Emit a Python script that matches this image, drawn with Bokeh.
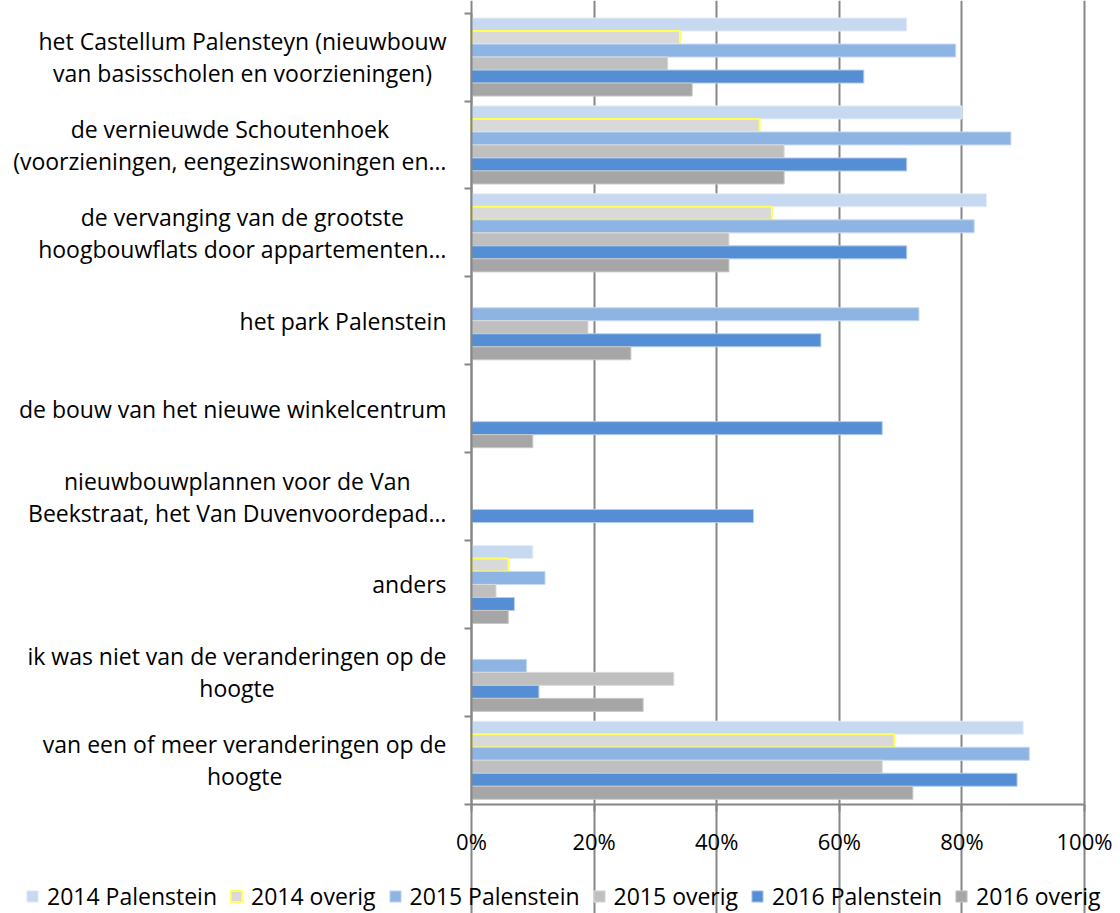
import math
from bokeh.plotting import figure
from bokeh.models import (Range1d, FixedTicker, NumeralTickFormatter, Label,
                          Legend, LegendItem, ColumnDataSource)
from bokeh.embed import file_html
from bokeh.resources import INLINE

nan = float("nan")

categories = [
    "het Castellum Palensteyn (nieuwbouw\nvan basisscholen en voorzieningen)",
    "de vernieuwde Schoutenhoek\n(voorzieningen, eengezinswoningen en\u2026",
    "de vervanging van de grootste\nhoogbouwflats door appartementen\u2026",
    "het park Palenstein",
    "de bouw van het nieuwe winkelcentrum",
    "nieuwbouwplannen voor de Van\nBeekstraat, het Van Duvenvoordepad\u2026",
    "anders",
    "ik was niet van de veranderingen op de\nhoogte",
    "van een of meer veranderingen op de\nhoogte",
]

series_names = ["2014 Palenstein", "2014 overig", "2015 Palenstein",
                "2015 overig", "2016 Palenstein", "2016 overig"]

palenstein_2014 = [71, 80, 84, nan, nan, nan, 10, nan, 90]
overig_2014 = [34, 47, 49, nan, nan, nan, 6, nan, 69]
palenstein_2015 = [79, 88, 82, 73, nan, nan, 12, 9, 91]
overig_2015 = [32, 51, 42, 19, nan, nan, 4, 33, 67]
palenstein_2016 = [64, 71, 71, 57, 67, 46, 7, 11, 89]
overig_2016 = [36, 51, 42, 26, 10, nan, 6, 28, 72]

x_ticks = [0, 20, 40, 60, 80, 100]

series_values = [palenstein_2014, overig_2014, palenstein_2015,
                 overig_2015, palenstein_2016, overig_2016]
fills = ["#C6D9F1", "#D9D9D9", "#8EB4E3", "#BFBFBF", "#558ED5", "#A6A6A6"]
lines = ["#E4ECF8", "#FFFF55", "#C9DAF0", "#DADADA", "#B5CDEB", "#C8C8C8"]
line_widths = [1, 2, 1, 1, 1, 1]

FONT = "Open Sans"
GRAY = "#868686"

W, H = 1120, 913
# plot-area geometry in canvas pixels
X0_PX, X1_PX = 471.0, 1084.0          # 0% and 100%
Y0_PX, Y1_PX = 12.6, 803.7            # top and bottom category boundaries
n_cat = len(categories)
px_per_x = X1_PX - X0_PX
px_per_cat = (Y1_PX - Y0_PX) / n_cat

x_range = Range1d(-X0_PX / px_per_x, 1 + (W - X1_PX) / px_per_x)
y_range = Range1d(n_cat + (H - Y1_PX) / px_per_cat, -Y0_PX / px_per_cat)

p = figure(width=W, height=H, output_backend="svg", toolbar_location=None,
           x_range=x_range, y_range=y_range,
           min_border_left=0, min_border_right=0, min_border_top=0,
           min_border_bottom=0)
p.outline_line_color = None
p.background_fill_color = "white"

bar_h = 0.148
n_s = len(series_names)
items = []
for j, (name, vals) in enumerate(zip(series_names, series_values)):
    ys, rights = [], []
    for i, v in enumerate(vals):
        if v is None or (isinstance(v, float) and math.isnan(v)):
            continue
        ys.append(i + 0.5 + (j - (n_s - 1) / 2) * bar_h)
        rights.append(v / 100.0)
    src = ColumnDataSource(dict(y=ys, right=rights))
    r = p.hbar(y="y", right="right", left=0, height=bar_h, source=src,
               fill_color=fills[j], line_color=lines[j], line_width=line_widths[j])
    items.append(LegendItem(label=name, renderers=[r]))

# x axis (fixed at the bottom category boundary)
xt = FixedTicker(ticks=[t / 100 for t in x_ticks])
xa = p.xaxis[0]
xa.fixed_location = n_cat
xa.bounds = (0, 1)
xa.ticker = xt
xa.formatter = NumeralTickFormatter(format="0%")
xa.major_label_text_font = FONT
xa.major_label_text_font_size = "22px"
xa.major_label_text_color = "#000000"
xa.axis_line_color = GRAY
xa.axis_line_width = 2
xa.major_tick_line_color = GRAY
xa.major_tick_line_width = 2
xa.major_tick_out = 7
xa.major_tick_in = 0
xa.minor_tick_line_color = None
xa.major_label_standoff = 15

p.xgrid.ticker = xt
p.xgrid.bounds = (0, n_cat)
p.xgrid.grid_line_color = GRAY
p.xgrid.grid_line_width = 2
p.ygrid.grid_line_color = None

# y axis fixed at 0%: ticks at category boundaries, labels drawn as Labels
bounds = list(range(n_cat + 1))
ya = p.yaxis[0]
ya.fixed_location = 0
ya.bounds = (0, n_cat)
ya.ticker = FixedTicker(ticks=bounds)
ya.major_label_overrides = {b: "" for b in bounds}
ya.axis_line_color = GRAY
ya.axis_line_width = 2
ya.major_tick_line_color = GRAY
ya.major_tick_line_width = 2
ya.major_tick_out = 7
ya.major_tick_in = 0
ya.minor_tick_line_color = None

for i, cat in enumerate(categories):
    p.add_layout(Label(x=0, y=i + 0.5, x_offset=-25, text=cat,
                       anchor="center_right", text_align="center",
                       text_baseline="middle", text_font=FONT,
                       text_font_size="23px", text_color="#000000",
                       text_line_height=1.0))

legend = Legend(items=items, location=(25, 1), orientation="horizontal",
                glyph_width=14, glyph_height=14, label_standoff=8, spacing=12,
                padding=0, margin=0, border_line_color=None,
                background_fill_alpha=0, label_text_font=FONT,
                label_text_font_size="23px", label_text_color="#000000",
                label_height=22)
p.add_layout(legend)

open("out.html", "w").write(file_html(p, INLINE))
